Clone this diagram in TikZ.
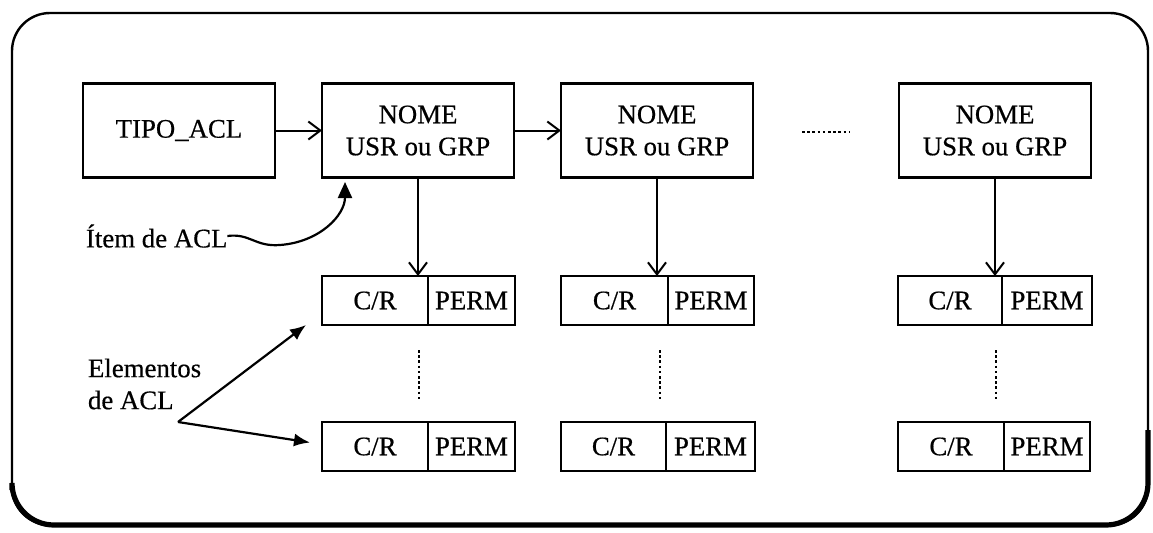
\documentclass[tikz,border=0pt]{standalone}
\usepackage{fontspec}
\setmainfont{Liberation Serif}[FakeBold=0.5]
\usetikzlibrary{arrows.meta,calc}

\begin{document}
\begin{tikzpicture}[x=0.5pt,y=-0.5pt,
  every node/.style={font=\fontsize{13.4}{16}\selectfont, inner sep=0pt, outer sep=0pt},
  headbox/.style={draw, line width=1.4pt, minimum width=96pt, minimum height=47pt, align=center},
  crcell/.style={draw, line width=1.3pt, minimum width=53pt, minimum height=24.5pt},
  permcell/.style={draw, line width=1.3pt, minimum width=43.5pt, minimum height=24.5pt},
  link/.style={line width=1pt, -{Straight Barb[length=6pt,width=9pt,line width=1pt]}},
  pointer/.style={line width=1.1pt, -{Latex[length=8pt,width=6.5pt]}},
  ellipsis/.style={line width=0.9pt, dash pattern=on 1.3pt off 1.3pt}
]
\useasboundingbox (0,0) rectangle (1153,532);

% outer frame with a heavier lower edge
\draw[line width=1.2pt, rounded corners=19pt] (12,13) rectangle (1148,525);
\draw[line width=2.6pt, rounded corners=21pt] (12,490) -- (12,525) -- (1148,525) -- (1148,430);

% header row
\node[headbox] (tipo) at (179,130.5) {TIPO\_ACL};
\node[headbox] (n1) at (418,130.5) {NOME\\USR ou GRP};
\node[headbox] (n2) at (657,130.5) {NOME\\USR ou GRP};
\node[headbox] (n3) at (995,130.5) {NOME\\USR ou GRP};

\draw[link] (tipo.east) -- (n1.west);
\draw[link] (n1.east) -- (n2.west);

% ellipsis between the second and last item
\coordinate (d1) at (802,132);
\coordinate (d2) at (850,132);
\draw[ellipsis] (d1) -- (d2);

% element rows: C/R | PERM
\foreach \i/\xl/\wc/\row/\y in {1/322/106/1/300.5, 2/561/107/1/300.5, 3/898/104/1/300.5,
                                1/322/106/2/446.5, 2/561/105/2/446.5, 3/898/106/2/446.5}{
  \node[crcell, minimum width=\wc*0.5pt, anchor=west] (cr\i\row) at (\xl,\y) {C/R};
}
\node[permcell, anchor=west, minimum width=43.5pt] (pm11) at (cr11.east) {PERM};
\node[permcell, anchor=west, minimum width=43pt]   (pm21) at (cr21.east) {PERM};
\node[permcell, anchor=west, minimum width=45pt]   (pm31) at (cr31.east) {PERM};
\node[permcell, anchor=west, minimum width=43.5pt] (pm12) at (cr12.east) {PERM};
\node[permcell, anchor=west, minimum width=44.5pt] (pm22) at (cr22.east) {PERM};
\node[permcell, anchor=west, minimum width=43pt]   (pm32) at (cr32.east) {PERM};

% item -> first element
\draw[link] (n1.south) -- (n1.south |- cr11.north);
\draw[link] (n2.south) -- (n2.south |- cr21.north);
\draw[link] (n3.south) -- (n3.south |- cr31.north);

% continuation marks between first and last element
\foreach \x in {419,660,996}{
  \draw[ellipsis] (\x,350) -- (\x,400);
}

% labels
\node[anchor=west] (item) at (86,236) {Ítem de ACL};
\coordinate (itip) at (345,182);
\draw[line width=1.1pt, -{Triangle[length=8pt,width=7pt]}]
  (item.east) .. controls (250,233) and (255,247) .. (280,245)
  .. controls (320,242) and (345,215) .. (itip);

\node[align=left, anchor=west] (elem) at (88,384) {Elementos\\de ACL};
\coordinate (efork) at (178,422);
\draw[pointer] (efork) -- ([xshift=-8pt]cr11.south west);
\draw[pointer] (efork) -- ([xshift=-6pt,yshift=2pt]cr12.west);
\end{tikzpicture}
\end{document}
